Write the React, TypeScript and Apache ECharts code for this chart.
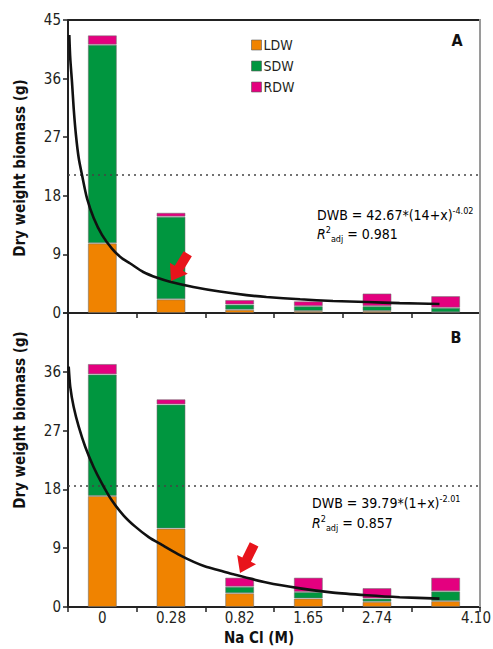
import React, { useEffect, useRef } from "react";
import * as echarts from "echarts";

const categories = ["0", "0.28", "0.82", "1.65", "2.74", "4.10"];
const seriesNames = ["LDW", "SDW", "RDW"];
const colors = ["#F08300", "#00963F", "#E4007F"];

// Panel A
const topLDW = [10.7, 2.1, 0.5, 0.3, 0.3, 0.1];
const topSDW = [30.5, 12.7, 0.8, 0.75, 0.75, 0.7];
const topRDW = [1.45, 0.6, 0.7, 0.75, 1.95, 1.8];
const topHalf = 21.25;
const topCurveX = [0.019, 0.033, 0.058, 0.083, 0.116, 0.156, 0.204, 0.277, 0.374, 0.495, 0.64, 0.786, 0.907, 1.096, 1.3, 1.485, 1.824, 2.21, 2.6, 2.89, 3.38, 3.86, 4.35, 4.83, 5.41];
const topCurveY = [42.7, 39.1, 35.5, 31.4, 27.3, 23.8, 21.2, 17.6, 14.6, 12.0, 9.9, 8.4, 7.6, 6.3, 5.4, 4.8, 4.0, 3.3, 2.75, 2.45, 2.1, 1.85, 1.68, 1.52, 1.38];

// Panel B
const botLDW = [17.0, 12.0, 2.1, 1.3, 0.8, 0.9];
const botSDW = [18.6, 19.0, 1.0, 1.0, 0.5, 1.5];
const botRDW = [1.6, 0.8, 1.4, 2.2, 1.6, 2.1];
const botHalf = 18.5;
const botCurveX = [0.01, 0.033, 0.083, 0.156, 0.252, 0.374, 0.495, 0.64, 0.811, 0.98, 1.175, 1.368, 1.6, 1.83, 2.0, 2.21, 2.41, 2.89, 3.38, 3.86, 4.35, 4.83, 5.41];
const botCurveY = [36.8, 33.7, 30.6, 27.6, 24.5, 21.4, 18.9, 16.3, 14.0, 12.3, 10.7, 9.5, 8.1, 6.9, 6.2, 5.6, 5.0, 3.75, 2.85, 2.2, 1.8, 1.5, 1.28];

const yTicks = [0, 9, 18, 27, 36, 45];

const FONT = "'Liberation Sans Narrow', 'Arial Narrow', 'DejaVu Sans Condensed', sans-serif";
const TXT = "#231F20";

function arrowPoints(tipX: number, tipY: number, dx: number, dy: number) {
  const len = Math.hypot(dx, dy);
  const ux = dx / len, uy = dy / len;
  const px = -uy, py = ux;
  const L = 32, H = 15, hw = 10.5, sw = 4.8;
  const local: [number, number][] = [
    [0, 0], [-H, hw], [-H, sw], [-L, sw], [-L, -sw], [-H, -sw], [-H, -hw],
  ];
  return local.map(([a, b]) => [tipX + a * ux + b * px, tipY + a * uy + b * py]);
}

export default function App() {
  const ref = useRef<HTMLDivElement>(null);
  useEffect(() => {
    document.body.style.margin = "0";
    const chart = echarts.init(ref.current!, null, { renderer: "svg" });
    const mkBars = (vals: number[][], xi: number, yi: number, stack: string, half: number) =>
      vals.map((v, i) => ({
        type: "bar" as const,
        barWidth: 29,
        name: seriesNames[i],
        xAxisIndex: xi,
        yAxisIndex: yi,
        stack,
        data: v,
        itemStyle: { color: colors[i], borderColor: "rgba(110,110,110,0.55)", borderWidth: 1 },
        markLine:
          i === 2
            ? {
                silent: true,
                symbol: "none",
                label: { show: false },
                lineStyle: { type: [2, 4], color: "#444", width: 1.5 },
                data: [{ yAxis: half }],
              }
            : undefined,
      }));
    const yAxisCommon = (gi: number, hideTop: boolean) => ({
      type: "value" as const,
      gridIndex: gi,
      min: 0,
      max: 45,
      interval: 9,
      axisLine: { show: true, lineStyle: { color: "#222", width: 2 } },
      axisTick: { show: true, length: 5, lineStyle: { color: "#222", width: 1.5 } },
      splitLine: { show: false },
      axisLabel: {
        color: TXT,
        fontFamily: FONT,
        fontSize: 15,
        margin: 7,
        formatter: (v: number) => (hideTop && v === yTicks[yTicks.length - 1] ? "" : String(v)),
      },
    });
    const catAxis = (gi: number, showLabel: boolean) => ({
      type: "category" as const,
      gridIndex: gi,
      data: categories,
      boundaryGap: true,
      axisLine: { show: true, lineStyle: { color: "#222", width: 2 } },
      axisTick: { show: true, length: 5, lineStyle: { color: "#222", width: 1.5 } },
      axisLabel: {
        show: showLabel,
        color: TXT,
        fontFamily: FONT,
        fontSize: 15,
        margin: 3,
        interval: 0,
        formatter: (v: string, idx: number) => (idx === categories.length - 1 ? "" : v),
      },
    });
    const valX = (gi: number) => ({
      type: "value" as const,
      gridIndex: gi,
      min: 0,
      max: 6,
      show: false,
    });
    const curve = (xs: number[], ys: number[], xi: number, yi: number) => ({
      type: "line" as const,
      xAxisIndex: xi,
      yAxisIndex: yi,
      data: xs.map((x, i) => [x, ys[i]]),
      showSymbol: false,
      smooth: 0.25,
      lineStyle: { color: "#111", width: 2.6 },
      z: 5,
      silent: true,
    });
    const eqRich = {
      n: { fontFamily: FONT, fontSize: 14, color: TXT, lineHeight: 18 },
      it: { fontFamily: FONT, fontSize: 14, color: TXT, fontStyle: "italic", lineHeight: 18 },
      sup: { fontFamily: FONT, fontSize: 9, color: TXT, verticalAlign: "top", lineHeight: 18 },
      sub: { fontFamily: FONT, fontSize: 9, color: TXT, verticalAlign: "bottom", lineHeight: 14 },
    };
    const eqText = (x: number, y: number, text: string) => ({
      type: "text", x, y,
      style: { text, rich: eqRich, align: "left", verticalAlign: "middle" },
    });
    const arrowA = arrowPoints(171, 281, -16, 26);
    const arrowB = arrowPoints(240, 573, -14, 28.5);
    chart.setOption({
      animation: false,
      legend: {
        data: seriesNames,
        orient: "vertical",
        left: 251,
        top: 38,
        padding: 0,
        itemWidth: 10,
        itemHeight: 10,
        itemGap: 7,
        icon: "rect",
        itemStyle: { borderColor: "rgba(90,90,90,0.6)", borderWidth: 1 },
        textStyle: { fontFamily: FONT, fontSize: 14, color: TXT, lineHeight: 14, padding: [0, 0, 0, -3] },
      },
      grid: [
        { left: 68, top: 20, width: 412, height: 293 },
        { left: 68, top: 313, width: 412, height: 294 },
      ],
      xAxis: [catAxis(0, false), catAxis(1, true), valX(0), valX(1)],
      yAxis: [yAxisCommon(0, false), yAxisCommon(1, true)],
      series: [
        ...mkBars([topLDW, topSDW, topRDW], 0, 0, "a", topHalf),
        ...mkBars([botLDW, botSDW, botRDW], 1, 1, "b", botHalf),
        curve(topCurveX, topCurveY, 2, 0),
        curve(botCurveX, botCurveY, 3, 1),
      ],
      graphic: [
        { type: "line", shape: { x1: 68, y1: 20, x2: 481, y2: 20 }, style: { stroke: "#222", lineWidth: 2 }, z: 10 },
        { type: "line", shape: { x1: 480, y1: 19, x2: 480, y2: 607 }, style: { stroke: "#9a9a9a", lineWidth: 2 }, z: 10 },
        {
          type: "text", x: 20, y: 168, rotation: Math.PI / 2,
          style: { text: "Dry weight biomass (g)", fontFamily: FONT, fontSize: 15, fontWeight: "bold", fill: "#111", align: "center", verticalAlign: "middle" },
        },
        {
          type: "text", x: 20, y: 420, rotation: Math.PI / 2,
          style: { text: "Dry weight biomass (g)", fontFamily: FONT, fontSize: 15, fontWeight: "bold", fill: "#111", align: "center", verticalAlign: "middle" },
        },
        {
          type: "text", x: 259, y: 638,
          style: { text: "Na Cl (M)", fontFamily: FONT, fontSize: 15, fontWeight: "bold", fill: "#111", align: "center", verticalAlign: "middle" },
        },
        {
          type: "text", x: 476, y: 618,
          style: { text: categories[categories.length - 1], fontFamily: FONT, fontSize: 15, fill: TXT, align: "center", verticalAlign: "middle" },
        },
        {
          type: "text", x: 457, y: 40,
          style: { text: "A", fontFamily: FONT, fontSize: 16, fontWeight: "bold", fill: "#111", align: "center", verticalAlign: "middle" },
        },
        {
          type: "text", x: 456, y: 337,
          style: { text: "B", fontFamily: FONT, fontSize: 16, fontWeight: "bold", fill: "#111", align: "center", verticalAlign: "middle" },
        },
        eqText(317, 215, "{n|DWB = 42.67*(14+x)}{sup|-4.02}"),
        eqText(317, 234, "{it|R}{sup|2}{sub|adj}{n| = 0.981}"),
        eqText(312, 503, "{n|DWB = 39.79*(1+x)}{sup|-2.01}"),
        eqText(312, 523, "{it|R}{sup|2}{sub|adj}{n| = 0.857}"),
        { type: "polygon", shape: { points: arrowA }, style: { fill: "#E8141B" }, z: 20 },
        { type: "polygon", shape: { points: arrowB }, style: { fill: "#E8141B" }, z: 20 },
      ],
    });
    return () => chart.dispose();
  }, []);
  return <div ref={ref} style={{ width: 493, height: 649 }} />;
}
